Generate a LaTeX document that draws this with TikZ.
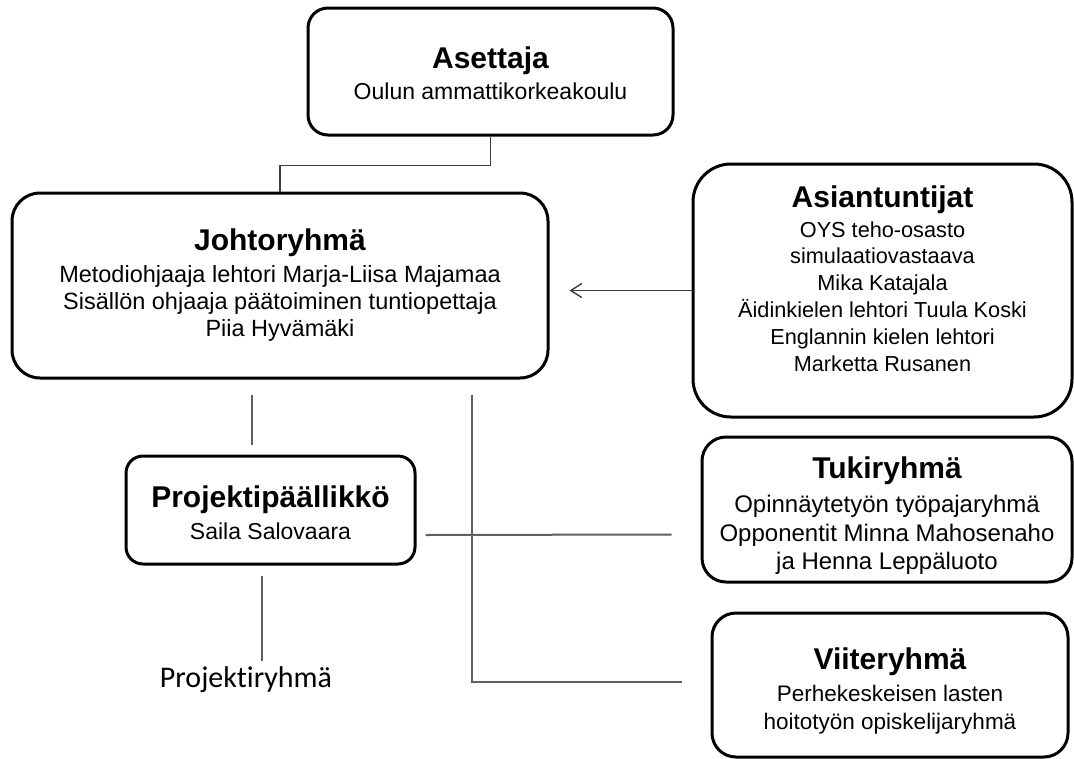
\documentclass[tikz,border=0pt]{standalone}
\usepackage{fontspec}
\setmainfont{Liberation Sans}
\newfontfamily\calibrifont[Ligatures=NoCommon]{Carlito}
\usetikzlibrary{arrows.meta}
\definecolor{conn}{RGB}{95,95,95}
\definecolor{connd}{RGB}{60,60,60}
\newcommand{\ttl}[1]{{\fontsize{30}{30}\selectfont\bfseries #1}}
\tikzset{
  box/.style={draw=black, line width=3pt, fill=white, inner sep=0pt},
  boxtext/.style={align=center, inner sep=0pt, font=\fontsize{23}{28}\selectfont},
  conline/.style={draw=conn, line width=2pt},
  topline/.style={draw=connd, line width=1.4pt},
  arrowline/.style={draw=connd, line width=1.4pt, -{Straight Barb[length=11pt,width=14pt,line width=1.4pt]}}
}
\begin{document}
\begin{tikzpicture}[x=1pt,y=-1pt]
\useasboundingbox[fill=white] (0,0) rectangle (1074,758);

% boxes
\node[box, rounded corners=20pt, minimum width=365pt, minimum height=127pt] (aset) at (490.5,71.5) {};
\node[box, rounded corners=28pt, minimum width=536pt, minimum height=185pt] (joht) at (280,285.5) {};
\node[box, rounded corners=38pt, minimum width=379pt, minimum height=253pt] (asi) at (882.5,290.5) {};
\node[box, rounded corners=17pt, minimum width=289pt, minimum height=108pt] (pp) at (270.5,510) {};
\node[box, rounded corners=24pt, minimum width=370pt, minimum height=145pt] (tuki) at (887,509.5) {};
\node[box, rounded corners=24pt, minimum width=356pt, minimum height=144pt] (viit) at (890,685) {};

% texts
\node[boxtext] (aset-t) at ([yshift=-2pt]aset.center)
  {\ttl{Asettaja}\\[3pt]Oulun ammattikorkeakoulu};
\node[boxtext, font=\fontsize{23.5}{27}\selectfont] (joht-t) at (joht.center)
  {\ttl{Johtoryhmä}\\[5pt]Metodiohjaaja lehtori Marja-Liisa Majamaa\\Sisällön ohjaaja päätoiminen tuntiopettaja\\Piia Hyvämäki};
\node[boxtext, font=\fontsize{21.7}{26.8}\selectfont] (asi-t) at ([yshift=12pt]asi.center)
  {\ttl{Asiantuntijat}\\[3pt]OYS teho-osasto\\simulaatiovastaava\\Mika Katajala\\Äidinkielen lehtori Tuula Koski\\Englannin kielen lehtori\\Marketta Rusanen};
\node[boxtext] (pp-t) at ([yshift=-3pt]pp.center)
  {\ttl{Projektipäällikkö}\\[4pt]Saila Salovaara};
\node[boxtext, font=\fontsize{24}{28.5}\selectfont] (tuki-t) at ([yshift=-6pt]tuki.center)
  {\ttl{Tukiryhmä}\\[6pt]Opinnäytetyön työpajaryhmä\\Opponentit Minna Mahosenaho\\ja Henna Leppäluoto};
\node[boxtext, font=\fontsize{22.5}{28}\selectfont] (viit-t) at ([yshift=-6pt]viit.center)
  {\ttl{Viiteryhmä}\\[4pt]Perhekeskeisen lasten\\hoitotyön opiskelijaryhmä};

\node[font=\calibrifont\fontsize{30}{30}\selectfont, inner sep=0pt] (pr) at (246,680) {Projektiryhmä};
\coordinate (prtop) at (261.5,661);

% connectors
\draw[topline] (aset.south) -- ++(0,29) -| (joht.north);
\draw[arrowline] (asi.west) -- ([xshift=20pt]joht.east |- asi.west);
\draw[conline] ([xshift=-28pt,yshift=-15pt]joht.south) -- ([xshift=-18.5pt,yshift=10pt]pp.north);
\draw[conline] ([xshift=192pt,yshift=-15pt]joht.south) |- ([xshift=-29pt,yshift=3pt]viit.west);
\draw[conline] ([xshift=9pt,yshift=-25pt]pp.east) -- ([xshift=-29pt,yshift=-25pt]tuki.west);
\draw[conline] ([xshift=-9pt,yshift=-10pt]pp.south) -- (prtop);
\end{tikzpicture}
\end{document}
